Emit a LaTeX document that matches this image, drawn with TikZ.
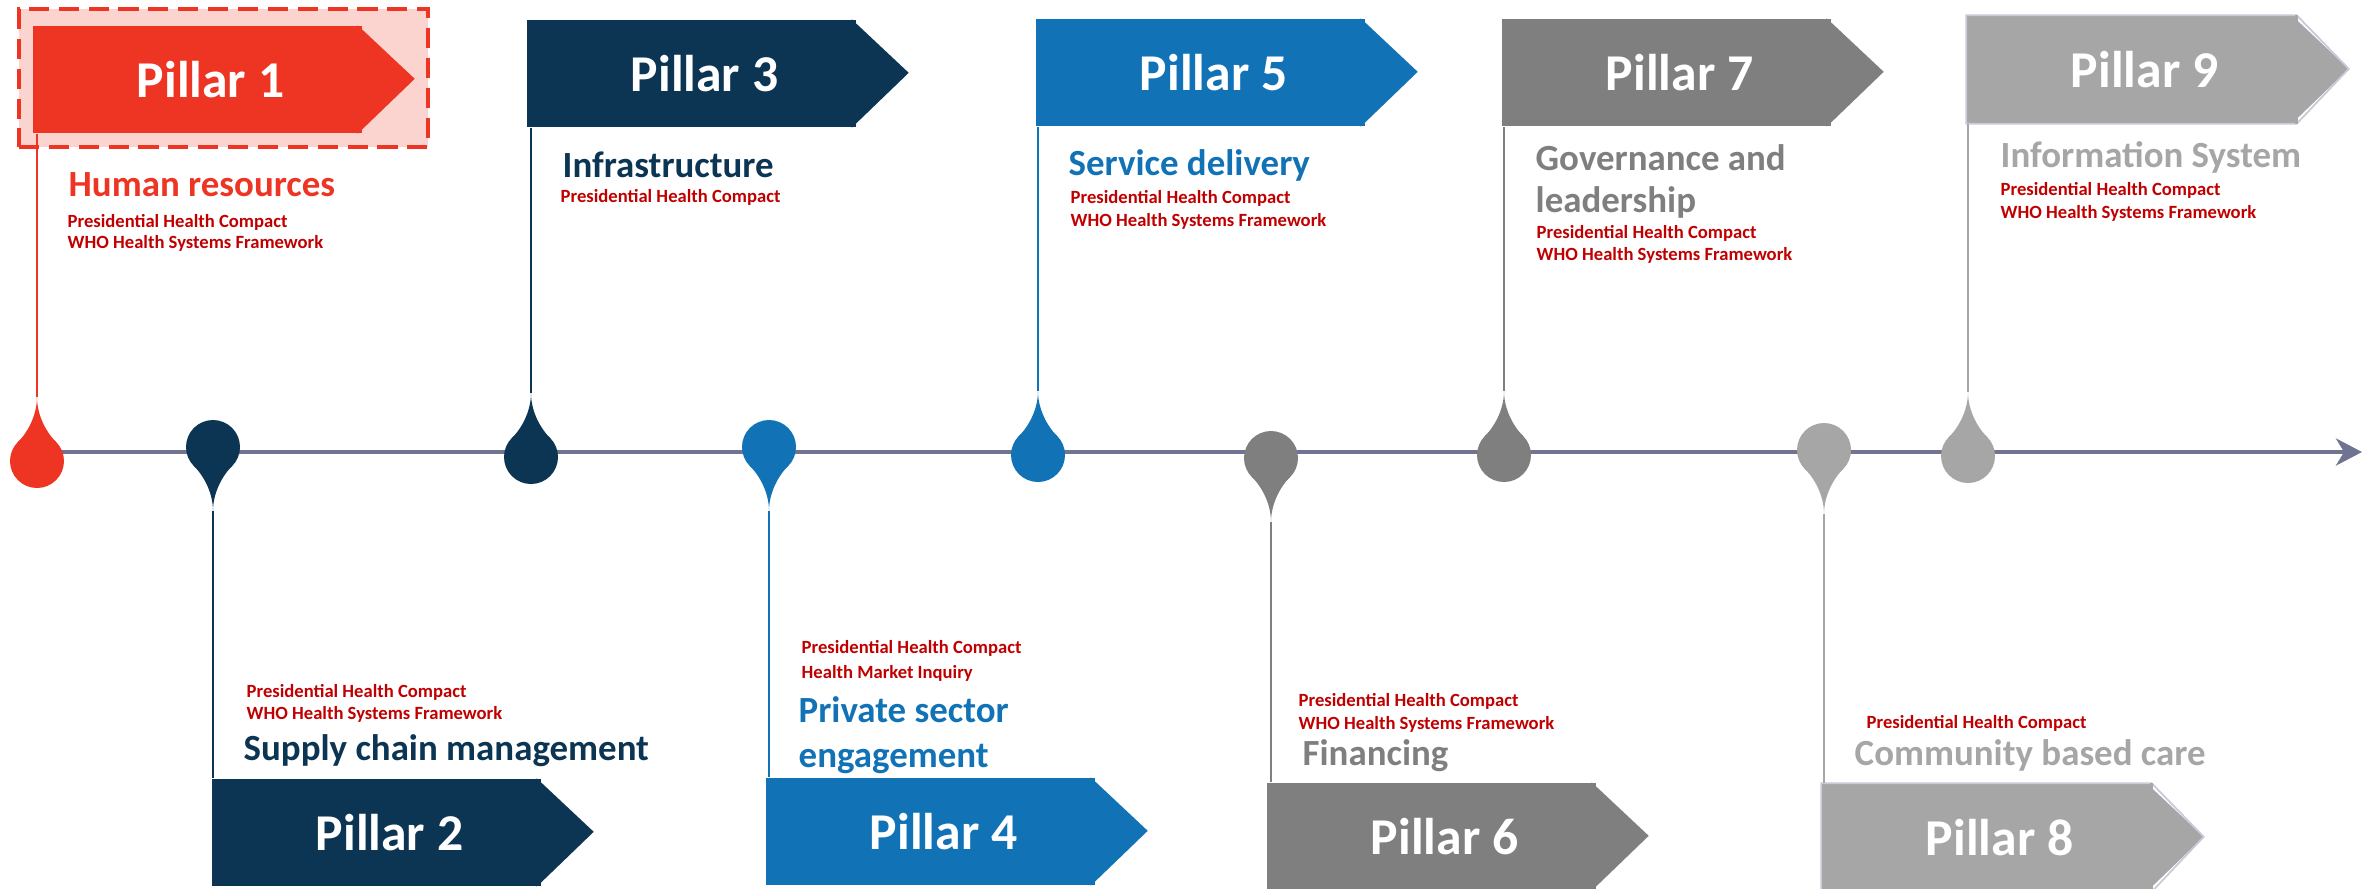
\documentclass[tikz,border=0pt]{standalone}
\usepackage{fontspec}
\setmainfont{Carlito}
\usetikzlibrary{arrows.meta, positioning, calc}

\definecolor{pillarred}{HTML}{EE3524}
\definecolor{softpink}{HTML}{FBD4D0}
\definecolor{navy}{HTML}{0B3553}
\definecolor{midblue}{HTML}{1172B6}
\definecolor{darkgrey}{HTML}{7F7F7F}
\definecolor{lightgrey}{HTML}{A6A6A6}
\definecolor{lavender}{HTML}{C9C9DA}
\definecolor{refred}{HTML}{C00000}
\definecolor{axisgrey}{HTML}{6E7492}

\tikzset{
  pinup/.pic={
    \fill (0,0) circle (0.27);
    \fill (0,-0.64) .. controls (0,-0.45) and (-0.10,-0.28) .. (-0.19,-0.19)
      -- (0.19,-0.19) .. controls (0.10,-0.28) and (0,-0.45) .. (0,-0.64) -- cycle;
    \coordinate (-tip) at (0,-0.64);
  },
  pindown/.pic={
    \fill (0,0) circle (0.27);
    \fill (0,0.64) .. controls (0,0.45) and (-0.10,0.28) .. (-0.19,0.19)
      -- (0.19,0.19) .. controls (0.10,0.28) and (0,0.45) .. (0,0.64) -- cycle;
    \coordinate (-tip) at (0,0.64);
  }
}

\begin{document}
\begin{tikzpicture}[x=1cm, y=-1cm,
  pillar/.style={rectangle, inner sep=0pt, minimum width=3.29cm, minimum height=1.07cm, fill=#1},
  plabel/.style={text=white, inner sep=0pt, font=\bfseries\fontsize{14.7}{17}\selectfont},
  head/.style={anchor=base west, inner sep=0pt, text=#1, font=\bfseries\fontsize{10.5}{12.6}\selectfont},
  src/.style={anchor=base west, inner sep=0pt, text=refred, font=\bfseries\fontsize{5.3}{6.3}\selectfont},
  stem/.style={line width=0.45pt},
  hilite/.style={rectangle, draw=pillarred, fill=softpink, line width=1.4pt,
    dash pattern=on 5.7pt off 2.8pt, minimum width=4.09cm, minimum height=1.38cm}]
  \useasboundingbox (0,0) rectangle (23.79,8.88);

  % highlighted first pillar
  \node[hilite] (hl) at (2.235,0.78) {};

  % pillar boxes
  \node[pillar=pillarred] (b1) at (1.975,0.795) {};
  \node[pillar=navy] (b2) at (3.765,8.325) {};
  \node[pillar=navy] (b3) at (6.915,0.735) {};
  \node[pillar=midblue] (b4) at (9.305,8.315) {};
  \node[pillar=midblue] (b5) at (12.005,0.725) {};
  \node[pillar=darkgrey] (b6) at (14.315,8.365) {};
  \node[pillar=darkgrey] (b7) at (16.665,0.725) {};
  \node[pillar=lightgrey] (b8) at (19.865,8.375) {};
  \node[pillar=lightgrey] (b9) at (21.315,0.695) {};

  \fill[pillarred] ([xshift=-0.5mm]b1.north east) -- ++(0.57,0.535) -- ([xshift=-0.5mm]b1.south east) -- cycle;
  \fill[navy] ([xshift=-0.5mm]b2.north east) -- ++(0.57,0.535) -- ([xshift=-0.5mm]b2.south east) -- cycle;
  \fill[navy] ([xshift=-0.5mm]b3.north east) -- ++(0.57,0.535) -- ([xshift=-0.5mm]b3.south east) -- cycle;
  \fill[midblue] ([xshift=-0.5mm]b4.north east) -- ++(0.57,0.535) -- ([xshift=-0.5mm]b4.south east) -- cycle;
  \fill[midblue] ([xshift=-0.5mm]b5.north east) -- ++(0.57,0.535) -- ([xshift=-0.5mm]b5.south east) -- cycle;
  \fill[darkgrey] ([xshift=-0.5mm]b6.north east) -- ++(0.57,0.535) -- ([xshift=-0.5mm]b6.south east) -- cycle;
  \fill[darkgrey] ([xshift=-0.5mm]b7.north east) -- ++(0.57,0.535) -- ([xshift=-0.5mm]b7.south east) -- cycle;
  \fill[lightgrey] ([xshift=-0.5mm]b8.north east) -- ++(0.57,0.535) -- ([xshift=-0.5mm]b8.south east) -- cycle;
  \fill[lightgrey] ([xshift=-0.5mm]b9.north east) -- ++(0.57,0.535) -- ([xshift=-0.5mm]b9.south east) -- cycle;
  \draw[lavender, line width=0.5pt] (b8.south west) -- (b8.north west) -- (b8.north east)
    -- ++(0.52,0.535) -- (b8.south east) -- cycle;
  \draw[lavender, line width=0.5pt] (b9.south west) -- (b9.north west) -- (b9.north east)
    -- ++(0.52,0.535) -- (b9.south east) -- cycle;
  \fill[lightgrey] ([xshift=-0.4pt]b8.north east) rectangle ([xshift=0.4pt]b8.south east);
  \fill[lightgrey] ([xshift=-0.4pt]b9.north east) rectangle ([xshift=0.4pt]b9.south east);

  \node[plabel] (l1) at ($(b1.center)+(0.13,0)$) {Pillar 1};
  \node[plabel] (l2) at ($(b2.center)+(0.13,0)$) {Pillar 2};
  \node[plabel] (l3) at ($(b3.center)+(0.13,0)$) {Pillar 3};
  \node[plabel] (l4) at ($(b4.center)+(0.13,0)$) {Pillar 4};
  \node[plabel] (l5) at ($(b5.center)+(0.13,0)$) {Pillar 5};
  \node[plabel] (l6) at ($(b6.center)+(0.13,0)$) {Pillar 6};
  \node[plabel] (l7) at ($(b7.center)+(0.13,0)$) {Pillar 7};
  \node[plabel] (l8) at ($(b8.center)+(0.13,0)$) {Pillar 8};
  \node[plabel] (l9) at ($(b9.center)+(0.13,0)$) {Pillar 9};

  % time line
  \coordinate (start) at (0.37,4.52);
  \coordinate (end) at (23.62,4.52);
  \draw[axisgrey, line width=1.15pt, -{Stealth[length=0.26cm, width=0.27cm, inset=0.08cm]}] (start) -- (end);

  % pins
  \pic[pillarred] (d1) at (0.37,4.61) {pinup};
  \pic[navy] (d2) at (2.13,4.47) {pindown};
  \pic[navy] (d3) at (5.31,4.57) {pinup};
  \pic[midblue] (d4) at (7.69,4.47) {pindown};
  \pic[midblue] (d5) at (10.38,4.55) {pinup};
  \pic[darkgrey] (d6) at (12.71,4.58) {pindown};
  \pic[darkgrey] (d7) at (15.04,4.55) {pinup};
  \pic[lightgrey] (d8) at (18.24,4.50) {pindown};
  \pic[lightgrey] (d9) at (19.68,4.56) {pinup};

  % stems
  \draw[stem, pillarred] (d1-tip) -- (d1-tip |- b1.south);
  \draw[stem, navy] (d2-tip) -- (d2-tip |- b2.north);
  \draw[stem, navy] (d3-tip) -- (d3-tip |- b3.south);
  \draw[stem, midblue] (d4-tip) -- (d4-tip |- b4.north);
  \draw[stem, midblue] (d5-tip) -- (d5-tip |- b5.south);
  \draw[stem, darkgrey] (d6-tip) -- (d6-tip |- b6.north);
  \draw[stem, darkgrey] (d7-tip) -- (d7-tip |- b7.south);
  \draw[stem, lightgrey] (d8-tip) -- (d8-tip |- b8.north);
  \draw[stem, lightgrey] (d9-tip) -- (d9-tip |- b9.south);

  % headings
  \node[head=pillarred] (h1) at (0.68,1.96) {Human resources};
  \node[head=navy] (h2) at (2.43,7.60) {Supply chain management};
  \node[head=navy] (h3) at (5.62,1.77) {Infrastructure};
  \node[head=midblue] (h4a) at (7.98,7.22) {Private sector};
  \node[head=midblue] (h4b) at (7.98,7.67) {engagement};
  \node[head=midblue] (h5) at (10.68,1.75) {Service delivery};
  \node[head=darkgrey] (h6) at (13.02,7.65) {Financing};
  \node[head=darkgrey] (h7a) at (15.35,1.70) {Governance and};
  \node[head=darkgrey] (h7b) at (15.35,2.12) {leadership};
  \node[head=lightgrey] (h8) at (18.54,7.65) {Community based care};
  \node[head=lightgrey] (h9) at (20.00,1.67) {Information System};

  % sources
  \node[src] (s1a) at (0.67,2.27) {Presidential Health Compact};
  \node[src] (s1b) at (0.67,2.48) {WHO Health Systems Framework};
  \node[src] (s2a) at (2.46,6.97) {Presidential Health Compact};
  \node[src] (s2b) at (2.46,7.19) {WHO Health Systems Framework};
  \node[src] (s3a) at (5.60,2.02) {Presidential Health Compact};
  \node[src] (s4a) at (8.01,6.53) {Presidential Health Compact};
  \node[src] (s4b) at (8.01,6.78) {Health Market Inquiry};
  \node[src] (s5a) at (10.70,2.03) {Presidential Health Compact};
  \node[src] (s5b) at (10.70,2.26) {WHO Health Systems Framework};
  \node[src] (s6a) at (12.98,7.06) {Presidential Health Compact};
  \node[src] (s6b) at (12.98,7.29) {WHO Health Systems Framework};
  \node[src] (s7a) at (15.36,2.38) {Presidential Health Compact};
  \node[src] (s7b) at (15.36,2.60) {WHO Health Systems Framework};
  \node[src] (s8a) at (18.66,7.28) {Presidential Health Compact};
  \node[src] (s9a) at (20.00,1.95) {Presidential Health Compact};
  \node[src] (s9b) at (20.00,2.18) {WHO Health Systems Framework};
\end{tikzpicture}
\end{document}
